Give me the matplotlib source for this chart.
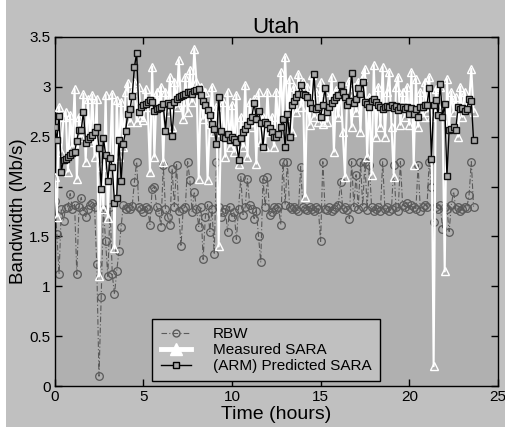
import matplotlib
matplotlib.use("Agg")
import matplotlib.pyplot as plt
from matplotlib.lines import Line2D
from matplotlib.patches import Rectangle

plt.rcParams['font.family'] = ['Liberation Sans', 'DejaVu Sans']

step_hours = 0.125
n_points = 190
hours = [round(i * step_hours, 3) for i in range(n_points)]

rbw = [
    1.86, 1.53, 1.12, 1.78, 1.66, 1.79, 1.80, 1.93, 1.78, 1.82,
    1.12, 1.80, 1.89, 1.76, 1.70, 1.78, 1.82, 1.84, 1.80, 1.22,
    0.10, 0.89, 1.78, 1.45, 1.10, 1.80, 1.12, 0.92, 1.15, 1.35,
    1.60, 1.82, 1.78, 1.80, 1.78, 1.81, 2.05, 2.25, 1.80, 1.78,
    1.75, 1.80, 1.78, 1.62, 1.98, 2.00, 1.80, 1.75, 1.60, 2.22,
    1.78, 1.70, 1.62, 2.18, 1.80, 2.22, 1.76, 1.40, 1.78, 1.80,
    2.25, 2.07, 1.75, 1.95, 1.78, 1.60, 1.80, 1.27, 1.70, 1.82,
    1.55, 1.78, 1.32, 2.25, 1.80, 1.70, 1.75, 1.78, 1.55, 1.80,
    1.70, 1.75, 1.47, 1.78, 2.10, 1.72, 1.80, 2.08, 1.82, 1.78,
    1.68, 1.76, 1.50, 1.24, 2.08, 1.80, 2.10, 1.72, 1.75, 1.80,
    1.78, 1.80, 1.62, 2.25, 1.82, 2.25, 1.80, 1.78, 1.80, 1.78,
    1.76, 2.20, 1.80, 1.78, 1.77, 1.80, 1.78, 1.76, 1.80, 1.78,
    1.45, 2.25, 1.78, 1.77, 1.80, 1.76, 1.78, 1.80, 1.82, 2.05,
    1.78, 1.80, 1.77, 1.68, 2.25, 1.80, 2.12, 1.78, 2.25, 1.80,
    2.25, 1.77, 2.22, 1.80, 1.76, 1.78, 1.80, 1.76, 2.25, 1.78,
    1.80, 1.76, 1.78, 2.22, 1.80, 1.76, 2.25, 1.82, 1.80, 1.84,
    1.78, 1.82, 1.80, 1.78, 2.22, 1.76, 1.80, 1.82, 1.80, 2.25,
    2.00, 1.65, 1.80, 1.78, 1.82, 1.58, 1.80, 1.78, 1.55, 1.82,
    1.95, 1.78, 1.80, 1.76, 1.78, 1.80, 1.79, 1.92, 2.25, 1.80,
]

measured_sara = [
    2.10, 1.70, 2.80, 2.35, 2.70, 2.75, 2.15, 2.72, 2.40, 2.98,
    2.08, 2.70, 2.50, 2.93, 2.25, 2.88, 2.45, 2.92, 2.30, 2.88,
    1.10, 2.20, 1.78, 2.92, 1.69, 2.30, 2.93, 1.38, 2.87, 2.30,
    2.85, 2.40, 2.95, 3.04, 2.65, 2.95, 3.05, 2.65, 3.00, 2.70,
    2.67, 2.98, 2.80, 2.15, 3.20, 2.30, 2.95, 2.80, 3.00, 2.25,
    2.95, 2.75, 3.10, 2.60, 3.05, 2.80, 3.27, 2.85, 2.68, 3.10,
    2.75, 3.17, 2.85, 3.38, 3.05, 2.08, 3.00, 2.68, 2.95, 2.07,
    2.63, 3.00, 2.55, 2.80, 1.40, 2.55, 2.85, 2.30, 2.95, 2.40,
    2.82, 2.35, 2.92, 2.23, 2.70, 2.40, 3.02, 2.30, 2.85, 2.60,
    2.88, 2.23, 2.95, 2.45, 2.70, 2.40, 2.95, 2.55, 2.70, 2.40,
    2.95, 2.55, 3.15, 2.70, 3.30, 2.70, 3.08, 2.55, 3.00, 2.75,
    3.13, 2.80, 3.05, 1.90, 3.00, 2.62, 3.12, 2.70, 2.95, 2.65,
    3.05, 2.63, 2.95, 2.65, 2.80, 3.10, 2.35, 2.97, 2.70, 3.00,
    2.55, 2.10, 2.95, 3.06, 2.60, 3.00, 2.75, 3.05, 2.55, 3.10,
    3.18, 2.30, 2.90, 2.12, 3.22, 2.50, 3.00, 2.60, 3.20, 2.50,
    2.95, 3.15, 2.60, 2.10, 3.00, 3.10, 2.62, 2.95, 2.70, 3.00,
    2.62, 3.15, 2.22, 3.08, 2.60, 2.95, 2.70, 3.05, 2.75, 3.10,
    2.70, 0.20, 2.98, 2.80, 3.00, 2.75, 1.15, 3.08, 2.60, 2.95,
    2.75, 2.90, 2.50, 3.00, 2.70, 2.95, 2.80, 2.85, 3.18, 2.75,
]

predicted_sara = [
    2.60, 2.47, 2.71, 2.15, 2.27, 2.28, 2.30, 2.32, 2.34, 2.35,
    2.46, 2.57, 2.57, 2.75, 2.44, 2.48, 2.50, 2.52, 2.55, 2.60,
    2.39, 1.98, 2.49, 2.32, 2.06, 2.29, 2.20, 1.84, 1.89, 2.47,
    2.06, 2.43, 2.56, 2.73, 2.78, 2.91, 3.20, 3.34, 2.75, 2.80,
    2.82, 2.83, 2.85, 2.87, 2.85, 2.76, 2.78, 2.79, 2.80, 2.83,
    2.56, 2.84, 2.82, 2.51, 2.85, 2.88, 2.90, 2.91, 2.92, 2.93,
    2.95, 2.95, 2.93, 2.96, 2.97, 2.98, 2.92, 2.86, 2.82, 2.77,
    2.72, 2.63, 2.58, 2.43, 2.90, 2.56, 2.50, 2.49, 2.53, 2.47,
    2.50, 2.48, 2.45, 2.27, 2.49, 2.55, 2.58, 2.62, 2.66, 2.70,
    2.84, 2.68, 2.76, 2.64, 2.40, 2.65, 2.63, 2.59, 2.55, 2.50,
    2.50, 2.53, 2.60, 2.68, 2.40, 2.73, 2.50, 2.82, 2.86, 2.90,
    2.93, 3.02, 2.93, 2.92, 2.90, 2.84, 2.79, 3.13, 2.78, 2.80,
    2.70, 2.82, 2.99, 2.75, 2.80, 2.84, 2.87, 2.90, 2.92, 3.02,
    2.95, 2.90, 2.82, 2.86, 3.14, 2.84, 2.88, 2.99, 2.93, 3.05,
    2.85, 2.83, 2.80, 2.86, 2.88, 2.85, 2.82, 2.80, 2.78, 2.80,
    2.81, 2.80, 2.82, 2.79, 2.81, 2.77, 2.80, 2.80, 2.78, 2.80,
    2.73, 2.79, 2.73, 2.78, 2.70, 2.80, 2.80, 2.82, 2.82, 2.99,
    2.28, 2.82, 2.87, 2.72, 3.03, 2.70, 2.83, 2.11, 2.57, 2.58,
    2.60, 2.57, 2.80, 2.78, 2.79, 2.76, 2.78, 2.88, 2.86, 2.47,
]

series_labels = ["RBW", "Measured SARA", "(ARM) Predicted SARA"]
x_ticks = [0, 5, 10, 15, 20, 25]
y_ticks = [0, 0.5, 1, 1.5, 2, 2.5, 3, 3.5]
y_tick_labels = ["0", "0.5", "1", "1.5", "2", "2.5", "3", "3.5"]

fig = plt.figure(figsize=(5.06, 4.30), dpi=100, facecolor="white")
bg = Rectangle((6 / 506, 3 / 430), 499 / 506, 427 / 430,
               transform=fig.transFigure, facecolor="#c0c0c0",
               edgecolor="none", zorder=-10)
fig.add_artist(bg)
ax = fig.add_axes([0.108, 0.102, 0.876, 0.812])
ax.set_zorder(1)
ax.set_facecolor("#b0b0b0")

ax.plot(hours, rbw, linestyle=(0, (5, 2, 1, 2)), color="#5a5a5a", lw=0.8,
        marker="o", markersize=5.5, mfc="none", mec="#5a5a5a", mew=0.9, zorder=2)
ax.plot(hours, measured_sara, linestyle="-", color="white", lw=1.5,
        marker="^", markersize=6, mfc="none", mec="white", mew=1.0, zorder=3)
ax.plot(hours, predicted_sara, linestyle="-", color="black", lw=1.0,
        marker="s", markersize=4.5, mfc="#a8a8a8", mec="#111111", mew=1.0, zorder=4)

ax.set_xlim(0, 25)
ax.set_ylim(0, 3.5)
ax.set_xticks(x_ticks)
ax.set_xticklabels([str(v) for v in x_ticks])
ax.set_yticks(y_ticks)
ax.set_yticklabels(y_tick_labels)
ax.tick_params(direction="in", length=5, width=1, top=True, right=True,
               labelsize=11, pad=3, colors="black")
for s in ax.spines.values():
    s.set_linewidth(1.0)
    s.set_color("black")

ax.set_title("Utah", fontsize=16, pad=3)
ax.set_xlabel("Time (hours)", fontsize=14, labelpad=1)
ax.set_ylabel("Bandwidth (Mb/s)", fontsize=13.5, labelpad=2)

handles = [
    Line2D([], [], linestyle=(0, (5, 2, 1, 2)), color="#5a5a5a", lw=0.8,
           marker="o", markersize=5, mfc="none", mec="#5a5a5a"),
    Line2D([], [], linestyle="-", color="white", lw=3.5,
           marker="^", markersize=8, mfc="white", mec="white"),
    Line2D([], [], linestyle="-", color="black", lw=1.0,
           marker="s", markersize=4, mfc="#a8a8a8", mec="black"),
]
leg = ax.legend(handles, series_labels, loc="lower left",
                bbox_to_anchor=(0.22, 0.014),
                fontsize=11, frameon=True, fancybox=False, framealpha=1,
                facecolor="#c0c0c0", edgecolor="black", handlelength=2.0,
                handletextpad=1.4, borderpad=0.55, labelspacing=0.12,
                borderaxespad=0)
leg.get_frame().set_linewidth(1.0)
leg.set_zorder(10)

fig.savefig("out.png", dpi=100, facecolor=fig.get_facecolor())
